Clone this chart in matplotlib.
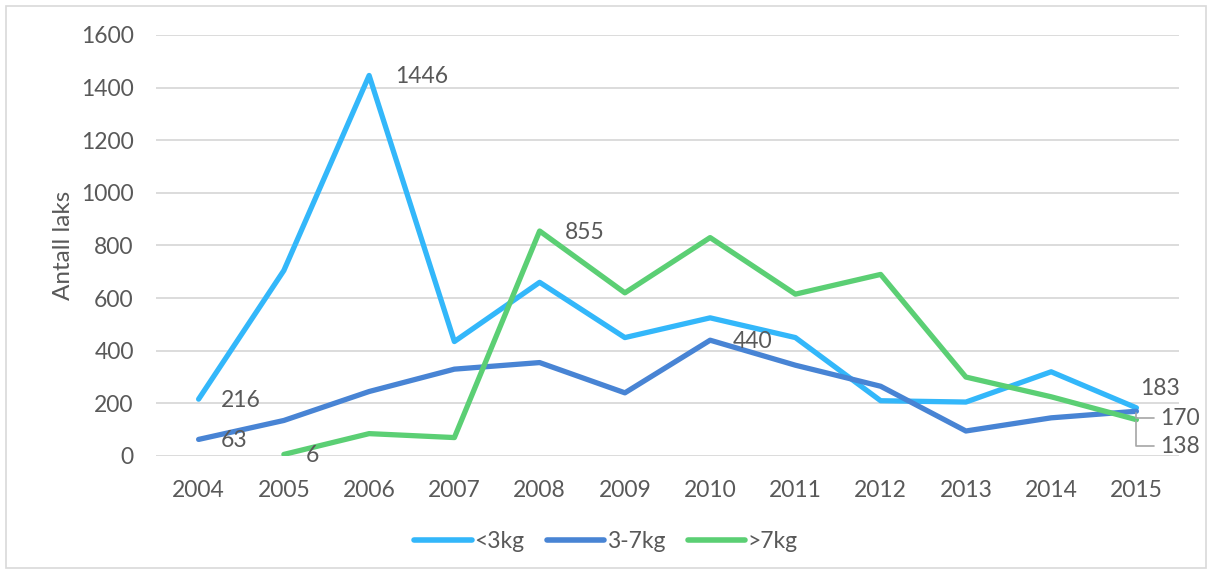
import numpy as np
import matplotlib
matplotlib.use("Agg")
import matplotlib.pyplot as plt
from matplotlib.patches import Rectangle

plt.rcParams['font.family'] = ['Lato', 'DejaVu Sans']

years = ['2004', '2005', '2006', '2007', '2008', '2009', '2010', '2011', '2012', '2013', '2014', '2015']
small = [216, 705, 1446, 435, 660, 450, 525, 450, 210, 205, 320, 183]
medium = [63, 135, 245, 330, 355, 240, 440, 345, 265, 95, 145, 170]
large = [np.nan, 6, 85, 70, 855, 620, 830, 615, 690, 300, 225, 138]
series_names = ['<3kg', '3-7kg', '>7kg']
colors = ['#33b7fa', '#4884d4', '#5bcf74']
txt = '#595959'

fig = plt.figure(figsize=(12.12, 5.73), dpi=100)
ax = fig.add_axes([0.1287, 0.2042, 0.8441, 0.7348])
fig.patches.append(Rectangle((0.005, 0.008), 0.99, 0.982, transform=fig.transFigure,
                             fill=False, edgecolor='#d9d9d9', lw=1.2))

x = np.arange(len(years))
for vals, name, c in zip([small, medium, large], series_names, colors):
    ax.plot(x, vals, color=c, lw=3.8, label=name, solid_capstyle='round', solid_joinstyle='round')

ax.set_xlim(-0.5, 11.5)
ax.set_ylim(0, 1600)
ax.set_yticks(range(0, 1601, 200))
ax.set_xticks(x)
ax.set_xticklabels(years)
ax.tick_params(length=0, labelsize=16.5, colors=txt)
ax.tick_params(axis='x', pad=17)
ax.tick_params(axis='y', pad=16)
ax.grid(axis='y', color='#d9d9d9', lw=1.3)
ax.set_axisbelow(True)
for s in ax.spines.values():
    s.set_visible(False)
ax.set_ylabel('Antall laks', fontsize=17.5, color=txt, labelpad=5)

lab = dict(fontsize=16.5, color=txt, va='center', ha='left')
ax.annotate('216', (0, small[0]), xytext=(16, -1), textcoords='offset points', **lab)
ax.annotate('63', (0, medium[0]), xytext=(16, -1), textcoords='offset points', **lab)
ax.annotate('6', (1, large[1]), xytext=(16, -1), textcoords='offset points', **lab)
ax.annotate('1446', (2, small[2]), xytext=(19, -1), textcoords='offset points', **lab)
ax.annotate('855', (4, large[4]), xytext=(18, -1), textcoords='offset points', **lab)
ax.annotate('440', (6, medium[6]), xytext=(16, -1), textcoords='offset points', **lab)
ax.annotate('183', (11, small[11]), xytext=(3, 14), textcoords='offset points', **lab)
ax.annotate('170', (11, medium[11]), xytext=(17, -5), textcoords='offset points', **lab,
            arrowprops=dict(arrowstyle='-', color='#a6a6a6', lw=1.2, relpos=(0, 0.5),
                            shrinkA=2, shrinkB=1, connectionstyle='angle,angleA=0,angleB=90,rad=0'))
ax.annotate('138', (11, large[11]), xytext=(17, -19), textcoords='offset points', **lab,
            arrowprops=dict(arrowstyle='-', color='#a6a6a6', lw=1.2, relpos=(0, 0.5),
                            shrinkA=2, shrinkB=1, connectionstyle='angle,angleA=0,angleB=90,rad=0'))

leg = fig.legend(loc='center', bbox_to_anchor=(0.5, 0.055), ncol=3, frameon=False,
                 fontsize=16.5, handlelength=2.5, handletextpad=0.1, columnspacing=1.0)
for t in leg.get_texts():
    t.set_color(txt)
for h in leg.get_lines():
    h.set_linewidth(4)

fig.savefig('out.png', dpi=100)
